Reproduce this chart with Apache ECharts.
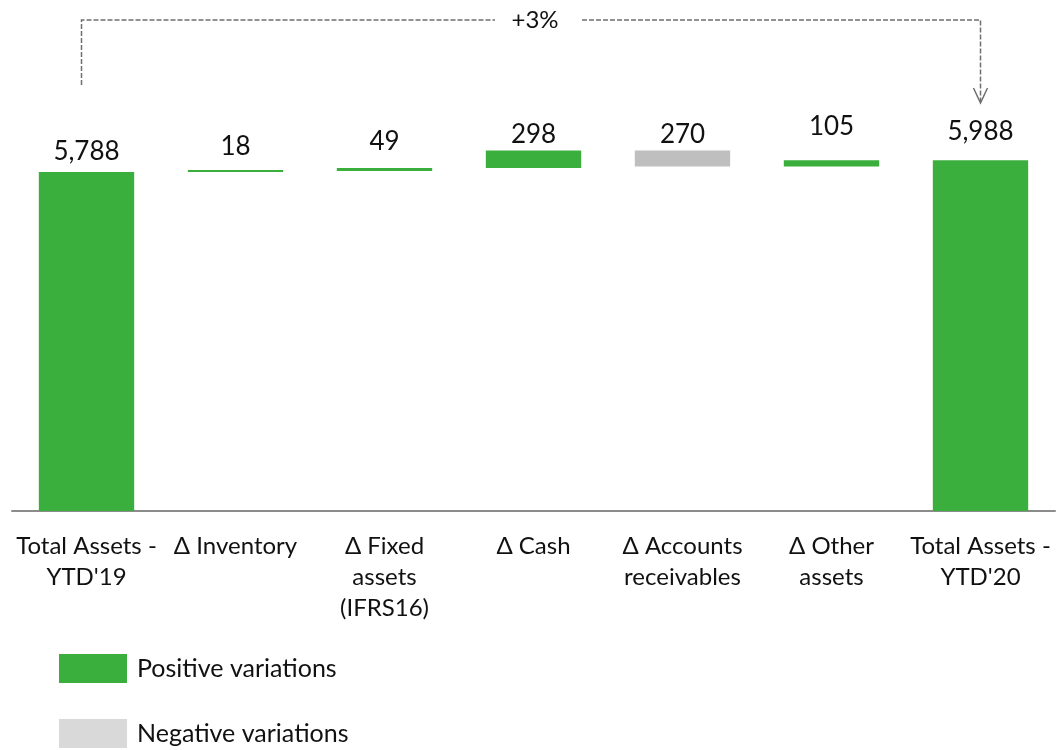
<!DOCTYPE html>
<html>
<head>
<meta charset="utf-8">
<script src="https://cdn.jsdelivr.net/npm/echarts@6/dist/echarts.min.js"></script>
<style>
  html, body { margin: 0; padding: 0; background: #fff; }
  #chart { width: 1059px; height: 750px; }
</style>
</head>
<body>
<div id="chart"></div>
<script>
const categories = ["Total Assets -\nYTD'19", "Δ Inventory", "Δ Fixed\nassets\n(IFRS16)", "Δ Cash", "Δ Accounts\nreceivables", "Δ Other\nassets", "Total Assets -\nYTD'20"];
const startTotal = 5788;
const deltas = [18, 49, 298, -270, 105];
const endTotal = 5988;
const changeLabel = '+3%';

const GREEN = '#3BAF3D';
const GREY = '#BFBFBF';
const LEGEND_GREY = '#D9D9D9';
const FONT = 'Lato, "Noto Sans", sans-serif';

// extra lift of each value label above its bar (px), as placed in the original slide
const labelLift = [2, 5, 8, -2, -2, 16, 11];

// build waterfall pieces: invisible base + positive / negative heights
const base = [0];
const positive = [startTotal];
const negative = ['-'];
let running = startTotal;
deltas.forEach((d) => {
    if (d >= 0) {
        base.push(running);
        positive.push(d);
        negative.push('-');
    } else {
        base.push(running + d);
        positive.push('-');
        negative.push(-d);
    }
    running += d;
});
base.push(0);
positive.push(endTotal);
negative.push('-');

const fmt = (v) => Number(v).toLocaleString('en-US');

const withLabels = (arr) => arr.map((v, i) => v === '-' ? '-' : {
    value: v,
    label: { distance: 5 + labelLift[i] }
});

const chart = echarts.init(document.getElementById('chart'), null, { renderer: 'canvas' });

const option = {
    animation: false,
    grid: { left: 12, right: 4, top: 101, bottom: 239 },
    xAxis: {
        type: 'category',
        data: categories,
        axisTick: { show: false },
        axisLine: { lineStyle: { color: '#8C8C8C', width: 2 } },
        axisLabel: {
            interval: 0,
            color: '#111',
            fontFamily: FONT,
            fontSize: 24,
            lineHeight: 31,
            margin: 20
        }
    },
    yAxis: {
        type: 'value',
        min: 0,
        max: 7000,
        show: false,
        splitLine: { show: false }
    },
    legend: {
        orient: 'vertical',
        left: 59,
        top: 654,
        padding: 0,
        itemWidth: 68,
        itemHeight: 29,
        itemGap: 36,
        icon: 'rect',
        selectedMode: false,
        textStyle: { color: '#111', fontFamily: FONT, fontSize: 25, padding: [0, 0, 0, 5] },
        data: [
            { name: 'Positive variations', itemStyle: { color: GREEN } },
            { name: 'Negative variations', itemStyle: { color: LEGEND_GREY } }
        ]
    },
    series: [
        {
            name: 'base',
            type: 'bar',
            stack: 'wf',
            barWidth: '64%',
            itemStyle: { color: 'transparent' },
            emphasis: { disabled: true },
            data: base
        },
        {
            name: 'Positive variations',
            type: 'bar',
            stack: 'wf',
            barWidth: '64%',
            barMinHeight: 2,
            itemStyle: { color: GREEN },
            label: {
                show: true,
                position: 'top',
                color: '#111',
                fontFamily: FONT,
                fontSize: 26,
                formatter: (p) => fmt(p.value)
            },
            data: withLabels(positive)
        },
        {
            name: 'Negative variations',
            type: 'bar',
            stack: 'wf',
            barWidth: '64%',
            itemStyle: { color: GREY },
            label: {
                show: true,
                position: 'top',
                color: '#111',
                fontFamily: FONT,
                fontSize: 26,
                formatter: (p) => fmt(p.value)
            },
            data: withLabels(negative)
        }
    ]
};

chart.setOption(option);

// dashed bracket from the first total to the last total
const x0 = chart.convertToPixel({ xAxisIndex: 0 }, 0) - 5;
const x1 = chart.convertToPixel({ xAxisIndex: 0 }, categories.length - 1);
const yTop = 20, yLeftEnd = 85, yTip = 103;
const midX = (x0 + x1) / 2 + 4;
const dash = { stroke: '#6F6F6F', lineWidth: 1.5, lineDash: [5, 2] };

chart.setOption({
    graphic: [
        { type: 'polyline', shape: { points: [[x0, yLeftEnd], [x0, yTop], [midX - 40, yTop]] }, style: dash, silent: true },
        { type: 'polyline', shape: { points: [[midX + 47, yTop], [x1, yTop], [x1, yTip - 2]] }, style: dash, silent: true },
        { type: 'polyline', shape: { points: [[x1 - 7, yTip - 15], [x1, yTip], [x1 + 7, yTip - 15]] }, style: { stroke: '#6F6F6F', lineWidth: 1.5, fill: null }, silent: true },
        {
            type: 'text', x: midX, y: yTop, silent: true,
            style: { text: changeLabel, fill: '#111', font: '24px ' + FONT, align: 'center', verticalAlign: 'middle' }
        }
    ]
});
</script>
</body>
</html>
